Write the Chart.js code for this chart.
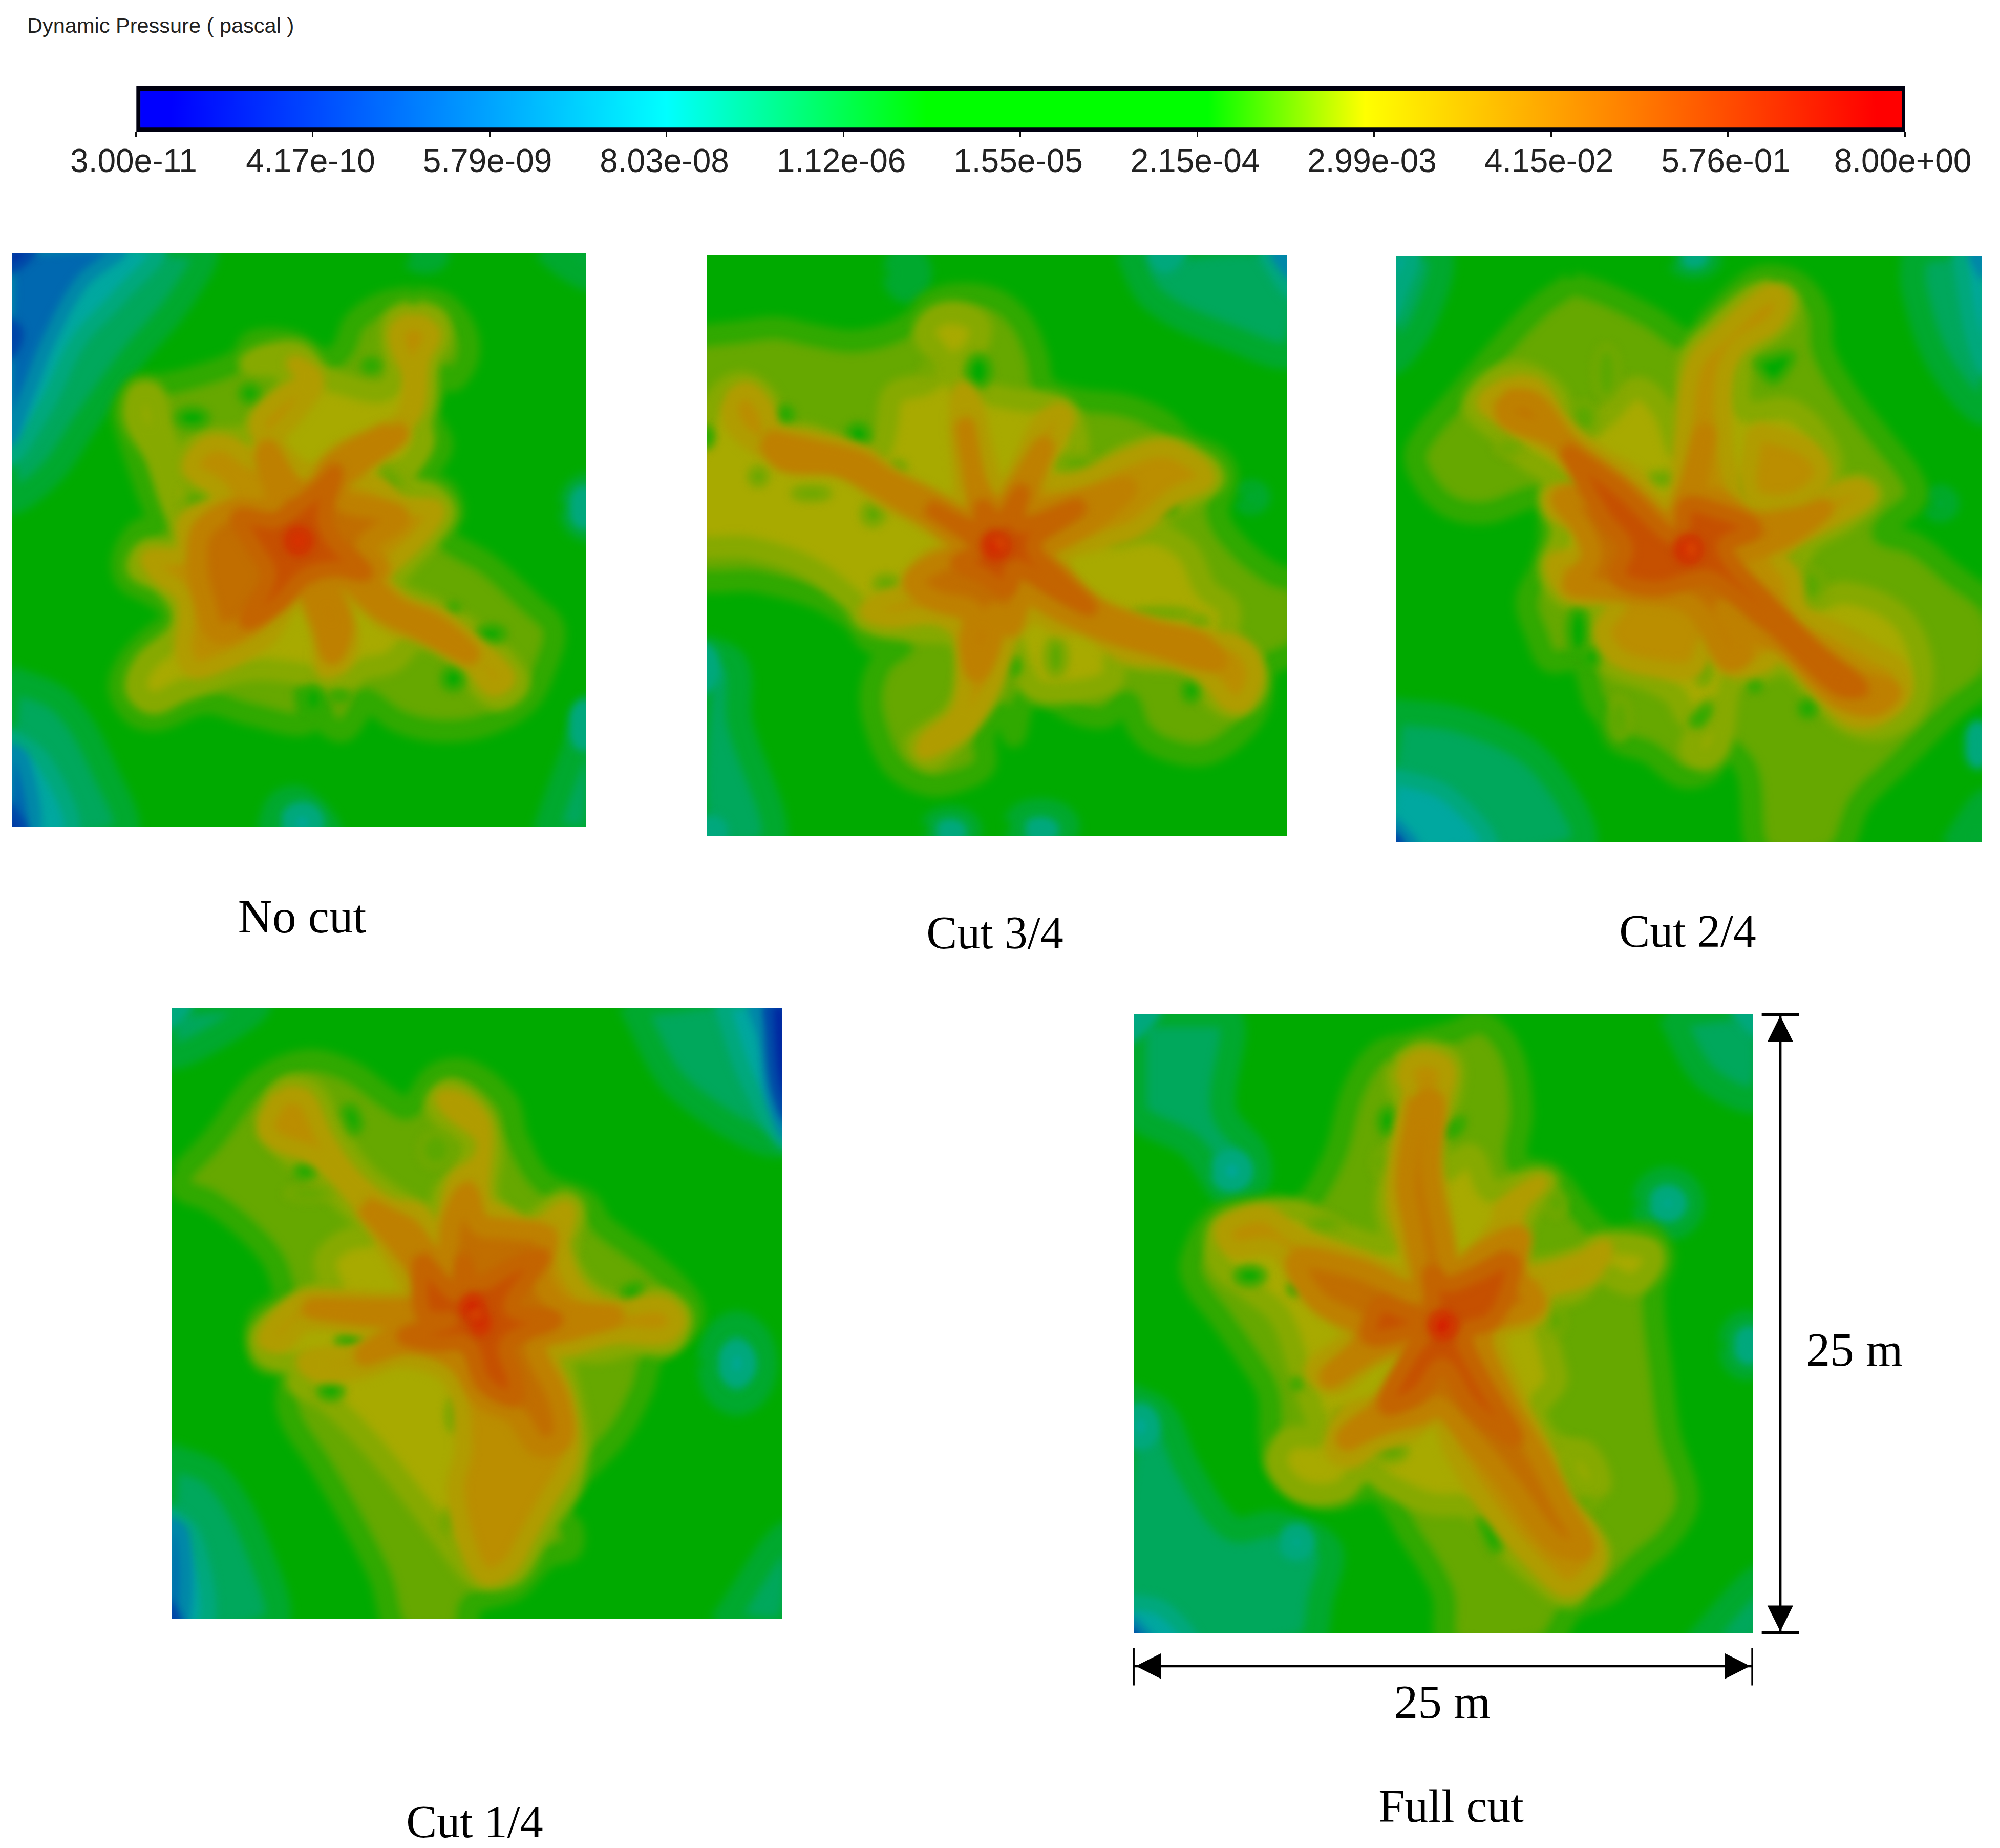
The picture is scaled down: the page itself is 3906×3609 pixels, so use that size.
<!DOCTYPE html>
<html>
<head>
<meta charset="utf-8">
<title>Dynamic Pressure</title>
<script src="https://cdn.jsdelivr.net/npm/chart.js@4"></script>
<style>
  body { margin: 0; background: #fff; width: 3906px; height: 3609px; position: relative; overflow: hidden; }
  canvas { position: absolute; display: block; }
  canvas.field { background: #00aa00; }
  .txt { position: absolute; transform: translate(-50%, -50%); white-space: nowrap; color: #000; font-family: "Liberation Serif", serif; font-size: 93px; }
  .cut { font-size: 90px; }
  #barTitle { transform: none; left: 53px; top: 26px; font-family: "Liberation Sans", sans-serif; font-size: 41.5px; color: #222; }
</style>
</head>
<body>
<div class="txt" id="barTitle">Dynamic Pressure ( pascal )</div>
<div class="txt" style="left:590px;top:1789px">No cut</div>
<div class="txt cut" style="left:1943px;top:1821px">Cut 3/4</div>
<div class="txt cut" style="left:3296px;top:1818px">Cut 2/4</div>
<div class="txt cut" style="left:927px;top:3557px">Cut 1/4</div>
<div class="txt" style="left:2834px;top:3527px;font-size:92px">Full cut</div>
<div class="txt" style="left:2817px;top:3323px">25 m</div>
<div class="txt" style="left:3622px;top:2635px">25 m</div>

<script>
"use strict";

// ----- colour bar ---------------------------------------------------------- //
const barTicks = ["3.00e-11", "4.17e-10", "5.79e-09", "8.03e-08", "1.12e-06", "1.55e-05",
                  "2.15e-04", "2.99e-03", "4.15e-02", "5.76e-01", "8.00e+00"];
const barStops = [0, 0.02, 0.1, 0.3, 0.447, 0.606, 0.695, 0.843, 0.984, 1];
const barColors = ["#0000ff", "#0000ff", "#0048ff", "#00ffff", "#00ff00", "#00ff00",
                   "#ffff00", "#ff8000", "#ff0000", "#ff0000"];

// No cut
const noCutTint = [[0,0,520,0,470,130,330,300,215,460,110,610,0,670], [0,1150,150,1220,260,1400,310,1570,0,1570],
  [700,1570,730,1490,790,1480,860,1570], [1440,1570,1500,1400,1570,1230,1570,1570], [1560,695,50,60], [1440,0,1570,0,1570,80,1500,50], [1120,20,30,15]];
const noCutTeal = [[0,0,400,0,300,130,190,250,100,430,0,560], [0,1300,100,1380,170,1570,0,1570], [790,1540,40,35], [1545,1280,20,50], [1545,695,20,40]];
const noCutBlue = [[0,0,300,0,200,90,110,250,50,400,0,510], [0,1340,40,1370,70,1570,0,1570]];
const noCutDeep = [[0,0,70,0,0,60], [0,190,30,230,0,290], [0,1490,45,1570,0,1570]];
const noCutPlume = [[1090,130,1170,150,1225,215,1235,290,1195,355,1165,340,1130,440,1165,530,1120,620,1175,650,1195,710,1170,770,1290,850,1400,950,1465,1020,1440,1130,1390,1220,1280,1280,1160,1295,1050,1270,960,1210,945,1240,900,1295,850,1270,840,1235,800,1190,800,1275,650,1250,530,1220,400,1265,340,1250,300,1180,330,1100,410,1025,445,1010,430,960,380,925,320,890,310,830,350,760,400,740,370,640,320,490,310,430,350,370,420,365,520,340,620,300,660,250,760,250,830,290,860,300,900,270,930,200,1000,150]];
const noCutMid = [[1090,165,1150,190,1160,240,1130,300,1125,400,1110,470,1115,520,1080,580,1030,610,1060,640,1140,660,1175,710,1130,780,1075,840,1035,890,1040,920,1150,970,1250,1030,1340,1110,1370,1170,1320,1210,1270,1180,1200,1090,1100,1050,1030,1110,950,1130,900,1160,830,1150,780,1140,680,1130,600,1140,530,1165,460,1190,390,1220,345,1180,370,1110,450,1040,470,980,420,900,350,860,370,815,450,810,480,780,440,680,400,560,340,460,350,390,390,390,415,480,440,560,480,620,470,570,530,515,590,510,650,500,680,450,760,370,730,320,650,310,700,285,780,280,840,340,900,365,1000,385,1040,350,1030,240,1040,190]];
const noCutSoft = [[480,640,540,660,520,700,470,700], [1010,580,1060,630,1030,660,1000,620]];
const noCutHoles = [[650,390,25,22], [495,455,42,24], [975,315,22,14], [1295,1035,38,20], [1195,1155,28,28], [1195,965,14,8], [820,1210,22,34], [890,1200,25,8]];
const noCutArm = [[1090,190,1140,230,1110,300,1095,430,1040,490,950,545,900,600,1000,640,1060,690,1150,700,1110,770,1040,840,1000,880,1060,950,1160,990,1260,1070,1340,1150,1300,1180,1240,1110,1130,1040,1030,1010,950,950,880,920,920,1040,900,1110,850,1130,840,1040,800,950,770,940,700,1040,620,1090,580,1110,500,1130,470,1070,480,1000,470,930,400,870,380,830,470,820,480,730,580,680,560,640,490,590,530,530,590,525,660,570,700,560,670,470,730,400,800,350,770,310,820,340,825,370,760,460,720,510,760,570,820,600,900,540,1020,490,1070,440,1080,340,1050,270,1045,220]];
const noCutCore = [[1030,490,1050,500,960,570,880,640,900,680,1050,720,960,800,1000,860,960,870,1040,960,1150,1010,1240,1090,1100,1020,1000,970,900,880,850,870,900,1010,870,1090,840,1000,790,900,740,930,620,1020,560,1030,530,950,510,860,520,760,600,700,680,700,720,680,690,560,700,540,760,640,810,660,880,570]];
const noCutHot = [[780,690,840,640,880,600,850,720,880,790,960,870,880,860,800,880,720,960,640,1000,700,880,660,800,620,720,720,730]];
const noCutRed = [[780,785,30,30]];
const noCutEye = [[780,785,7,7]];

// Cut 3/4
const cut34Tint = [[1130,0,1570,0,1570,270,1400,230,1200,130], [0,1050,90,1100,100,1250,190,1570,0,1570], [545,60,32,45], [660,1540,50,30], [900,1530,70,40], [1460,655,16,12]];
const cut34Teal = [[1190,0,1270,0,1230,40], [1490,0,1570,0,1570,110], [0,1110,30,50], [25,1545,25,25], [660,1545,25,15], [900,1540,30,15]];
const cut34Blue = [[1520,0,1570,0,1570,60]];
const cut34Deep = [];
const cut34Plume = [[-40,230,100,215,200,205,300,225,400,240,500,220,570,180,600,140,680,115,780,130,850,190,890,280,910,360,1000,395,1120,410,1220,450,1290,510,1370,550,1395,600,1370,700,1430,790,1520,860,1590,890,1590,1050,1500,1110,1480,1210,1420,1290,1330,1340,1220,1320,1160,1270,1130,1200,1070,1240,1000,1230,920,1190,860,1190,830,1290,810,1240,780,1230,750,1290,750,1370,680,1410,600,1420,510,1370,460,1260,450,1170,480,1090,530,1050,450,1040,400,980,300,920,150,880,-40,850]];
const cut34Mid = [[-40,560,50,380,110,350,170,390,200,480,290,490,400,540,470,530,490,470,510,380,600,350,640,300,590,220,620,175,680,165,740,200,720,270,680,300,680,350,760,380,830,395,960,420,1000,530,960,570,1040,590,1130,540,1230,520,1340,570,1360,610,1300,650,1190,720,1100,760,1200,750,1290,800,1340,900,1400,950,1400,1040,1460,1090,1470,1170,1410,1215,1350,1180,1290,1100,1180,1090,1100,1080,1090,1140,1000,1170,890,1170,850,1110,820,1040,780,1100,760,1180,690,1270,630,1340,600,1350,570,1310,660,1240,700,1160,680,1030,560,1010,440,985,400,930,280,840,130,790,-40,770]];
const cut34Soft = [[290,645,50,15], [150,600,22,22], [455,700,28,28], [520,575,20,14], [490,885,32,20], [940,1080,26,50], [1000,565,50,20], [1220,965,80,12], [600,315,15,15], [1320,985,25,12]];
const cut34Holes = [[735,320,30,42], [220,435,20,18], [415,490,28,28], [13,495,15,25], [1300,1170,20,26], [1230,683,30,15], [830,1105,12,22]];
const cut34Arm = [[70,400,120,370,170,420,190,480,290,500,430,540,490,590,560,630,680,670,680,460,690,370,720,400,760,560,790,640,830,600,900,460,950,425,970,450,900,570,900,610,1000,610,1130,550,1230,525,1320,570,1340,610,1260,650,1150,740,1060,770,960,810,980,900,1060,960,1200,1000,1320,1030,1430,1050,1470,1120,1440,1200,1400,1200,1340,1130,1260,1090,1120,1070,1020,1000,950,1000,880,970,820,1020,800,1080,770,1160,700,1270,620,1320,590,1330,600,1300,680,1230,700,1120,690,1020,620,970,500,980,440,960,480,930,560,900,590,830,660,780,560,700,470,650,400,580,290,560,170,530,90,470]];
const cut34Core = [[170,500,300,530,420,560,480,600,600,660,730,720,720,600,700,470,730,620,790,690,830,640,910,520,860,680,900,690,1020,660,1130,630,1060,700,950,770,880,790,950,860,1050,950,1200,1010,1320,1040,1370,1090,1330,1090,1200,1050,1040,1000,920,940,860,900,820,1000,780,960,770,1040,730,1120,710,1040,720,960,620,930,560,880,620,830,700,800,620,720,520,660,440,610,350,570,220,560]];
const cut34Hot = [[600,680,740,740,745,680,790,720,850,640,840,730,1000,680,880,780,960,880,1030,950,920,890,830,840,810,900,740,860,680,830,740,790]];
const cut34Red = [[780,785,30,28]];
const cut34Eye = [[788,780,8,8]];

// Cut 2/4
const cut24Tint = [[0,1210,200,1240,400,1350,500,1570,0,1570], [0,0,130,0,90,180,0,290], [1380,0,1570,0,1570,420,1450,300,1380,100], [1480,1570,1570,1450,1570,1570], [800,20,40,20], [1450,665,15,15]];
const cut24Teal = [[0,1380,150,1430,260,1570,0,1570], [0,0,60,0,30,100,0,180], [1500,0,1570,0,1570,310,1530,200], [1548,1300,15,45], [800,15,20,12]];
const cut24Blue = [[0,1500,60,1570,0,1570], [1535,0,1570,0,1570,60]];
const cut24Deep = [[0,1530,30,1570,0,1570]];
const cut24Plume = [[480,85,560,110,680,170,790,235,850,170,950,80,1010,65,1080,90,1130,160,1140,260,1200,370,1300,500,1370,590,1385,650,1310,720,1300,745,1380,770,1480,850,1590,950,1590,1110,1480,1210,1340,1350,1240,1450,1170,1590,980,1590,940,1370,880,1310,840,1370,770,1385,680,1320,600,1290,570,1230,540,1190,500,1080,420,1080,385,1010,360,920,400,830,420,740,395,650,250,690,150,670,80,590,70,520,180,380,320,220,400,140]];
const cut24Mid = [[1010,100,1050,130,1030,190,950,250,920,330,935,420,1060,420,1160,540,1140,650,1110,670,1230,615,1270,640,1200,710,1100,770,1070,850,1090,930,1200,900,1340,960,1400,1080,1380,1200,1290,1260,1200,1240,1110,1150,1040,1090,950,1120,900,1130,870,1300,830,1340,790,1310,850,1200,790,1230,750,1170,680,1130,580,1090,540,1000,560,920,460,910,420,840,450,740,420,640,470,620,350,540,290,480,220,410,270,340,350,320,430,370,490,480,560,440,650,360,720,420,760,520,780,400,790,280,850,210,950,120]];
const cut24Soft = [[510,440,35,42], [570,320,30,70], [310,520,32,15], [1110,880,32,42], [825,1100,20,42], [720,600,42,16], [925,625,28,25], [1030,805,25,15], [605,1230,25,55], [1210,1045,18,25]];
const cut24Holes = [[960,290,1060,270,1040,320,1005,345], [495,1000,25,60], [530,1070,20,25], [790,1240,840,1195,835,1225,810,1250], [1100,1205,20,20], [960,1145,14,12], [1105,675,9,9]];
const cut24Arm = [[320,345,390,360,450,450,540,530,640,590,700,660,750,660,770,500,800,300,870,220,1000,110,1035,130,1010,190,920,250,880,330,880,500,890,560,930,680,1000,690,1100,660,1230,620,1260,645,1180,700,1060,760,1020,800,1060,860,1080,950,1180,1000,1280,1060,1340,1100,1350,1170,1280,1230,1210,1230,1120,1140,1030,1060,980,1090,900,1100,840,1030,800,1100,700,1100,600,1070,560,1000,600,920,470,900,430,820,500,800,510,740,430,680,430,640,540,640,430,520,320,450,250,400], [960,470,1100,520,1140,590,1060,660,950,640]];
const cut24Core = [[300,390,380,400,470,510,600,610,720,720,740,760,760,690,790,610,830,480,810,660,860,650,950,710,1080,700,1140,680,1050,750,950,790,880,820,1000,950,1110,1050,1230,1130,1320,1160,1270,1200,1170,1170,1040,1040,950,1000,880,940,930,1060,890,1080,820,960,770,920,640,900,540,890,480,880,520,830,530,790,500,720,450,650,540,650,640,690,560,590,430,490,310,440]];
const cut24Hot = [[460,520,600,620,760,760,780,670,850,680,960,730,880,780,1000,930,1130,1060,1240,1150,1180,1150,1030,1010,900,900,830,860,700,890,600,860,620,780,560,700]];
const cut24Red = [[785,785,30,30]];
const cut24Eye = [[790,785,8,12]];

// Cut 1/4
const cut14Tint = [[1170,0,1570,0,1570,350,1300,220], [0,0,230,0,100,100,0,130], [0,1140,130,1200,240,1400,270,1570,0,1570], [1440,910,70,100], [1400,1570,1570,1340,1570,1570]];
const cut14Teal = [[1400,0,1570,0,1570,350,1470,200], [0,0,50,0,0,50], [0,1280,70,1350,100,1570,0,1570], [1440,910,30,40]];
const cut14Blue = [[1480,0,1570,0,1570,330,1530,240,1510,90], [0,1310,40,1340,40,1570,0,1570]];
const cut14Deep = [[1520,0,1570,0,1570,290,1535,200], [0,1510,30,1570,0,1570]];
const cut14Plume = [[35,430,120,340,230,200,350,145,460,170,560,240,610,265,680,180,760,170,860,250,885,340,950,450,1060,500,1100,560,1220,650,1320,750,1325,810,1230,890,1200,980,1140,1090,1030,1210,990,1280,1025,1330,1020,1380,960,1400,880,1480,770,1520,750,1590,590,1590,540,1450,470,1310,390,1170,310,1040,310,950,340,900,250,910,225,840,240,790,300,750,300,740,270,650,200,570,110,500,40,470]];
const cut14Mid = [[245,310,300,215,370,225,420,320,500,430,590,500,680,540,700,480,750,420,770,350,700,290,680,250,720,220,790,280,820,370,810,480,840,530,910,560,1000,500,1030,520,1010,620,1040,700,1130,760,1250,750,1300,790,1270,860,1180,860,1100,880,1000,880,1000,900,1040,1100,1020,1220,975,1290,940,1340,880,1440,800,1455,760,1430,700,1350,640,1270,520,1120,400,1000,330,960,350,920,250,890,240,830,330,760,390,730,420,730,400,650,450,600,520,580,460,510,380,440,300,370]];
const cut14Soft = [[680,370,40,42], [870,1290,30,72], [1020,610,16,16], [725,1040,15,40], [710,1310,15,30], [360,480,60,16]];
const cut14Holes = [[445,270,470,260,490,310,470,325], [350,425,25,15], [1150,725,1195,710,1190,740,1165,760], [465,855,35,18], [415,980,30,18]];
const cut14Arm = [[290,230,350,240,400,340,470,440,560,510,640,530,680,600,700,560,730,450,790,400,800,340,720,270,700,240,750,250,800,310,800,500,860,540,920,570,1010,520,1000,620,1040,720,1120,770,1250,760,1290,800,1260,840,1130,840,1020,870,970,880,1010,1010,1020,1150,960,1260,910,1350,870,1420,810,1450,770,1400,730,1230,750,1120,720,950,600,900,480,930,370,930,350,900,480,880,560,850,490,820,350,810,290,860,250,850,290,790,360,745,600,750,610,720,560,620,490,510,380,390,280,350,250,310]];
const cut14Core = [[500,510,620,580,700,680,720,550,760,480,790,560,860,570,960,590,940,680,1000,770,1130,790,1000,830,930,860,990,1000,1000,1100,940,1120,880,1040,800,1000,730,900,620,860,500,890,570,840,650,800,500,790,370,770,600,770,680,750,610,640]];
const cut14Hot = [[640,640,740,740,750,650,780,710,880,660,950,640,870,770,980,800,860,860,880,950,880,1000,800,960,760,860,680,860,600,840,720,800,650,790]];
const cut14Red = [[772,768,24,24], [792,808,18,22]];
const cut14Eye = [[780,785,6,6]];

// Full cut
const fullCutTint = [[18,14,250,14,240,250,320,360,320,430,250,460,160,340,18,250], [1340,14,1560,14,1560,220,1430,170], [1335,480,60,60], [1530,830,40,55], [0,950,90,1000,150,1130,260,1280,370,1270,500,1330,480,1450,440,1570,0,1570], [1400,1570,1570,1400,1570,1570]];
const fullCutTeal = [[260,400,35,35], [0,0,70,0,0,70], [1500,0,1570,0,1570,60], [1335,480,30,28], [1535,830,20,30], [35,1030,30,40], [420,1315,28,28], [0,1460,90,1480,160,1570,0,1570]];
const fullCutBlue = [[0,1500,60,1570,0,1570]];
const fullCutDeep = [[0,1525,35,1570,0,1570]];
const fullCutPlume = [[700,85,800,60,880,35,950,110,975,250,965,380,1050,410,1130,510,1190,560,1290,555,1325,610,1300,700,1320,900,1340,1050,1385,1210,1340,1300,1260,1370,1190,1440,1100,1480,1030,1570,800,1570,780,1440,700,1300,620,1190,500,1210,410,1170,360,1100,350,950,300,860,230,760,170,680,160,620,220,515,350,485,430,490,510,370,560,200,620,110]];
const fullCutMid = [[670,140,730,105,800,130,800,210,770,290,780,400,850,360,900,450,1000,420,1040,430,980,520,985,630,1130,610,1165,580,1290,590,1300,630,1250,680,1160,650,1120,690,1030,740,1050,860,1060,920,1010,990,1040,1060,1100,1100,1070,1200,1130,1290,1170,1340,1130,1410,1090,1450,1000,1390,930,1320,850,1230,750,1220,640,1170,590,1130,530,1190,430,1190,370,1120,400,1060,480,1050,460,990,430,900,380,760,300,690,230,630,230,540,320,505,430,500,520,550,650,580,640,480,670,330,690,240,670,190], [1080,1100,1130,1090,1170,1170,1130,1190,1090,1140]];
const fullCutSoft = [[490,530,42,16], [1130,1220,30,15], [1060,770,20,30], [625,380,15,30], [530,1020,18,30], [650,1090,40,25], [1060,480,22,30]];
const fullCutHoles = [[645,278,20,32], [785,300,830,270,825,295,795,315], [305,658,36,20], [415,690,12,12], [420,925,10,10], [865,1255,895,1265,925,1325,905,1335]];
const fullCutArm = [[680,150,730,120,790,145,780,220,750,320,770,450,780,500,810,650,920,530,930,490,1020,430,970,490,960,600,990,650,1120,620,1180,590,1140,660,1030,700,1010,760,920,800,960,950,1030,1090,1070,1200,1150,1300,1160,1370,1090,1430,1020,1380,900,1240,810,1100,760,1000,710,1040,600,1080,560,1110,510,1090,540,1000,640,960,730,820,600,870,520,930,460,890,560,800,520,760,430,660,360,590,260,590,240,540,340,505,420,560,560,610,700,650,660,480,680,300,700,210]];
const fullCutCore = [[720,220,760,230,750,400,780,560,810,680,850,620,970,560,960,650,1010,730,880,790,930,950,1020,1110,1080,1230,1130,1330,1060,1320,950,1180,850,1060,770,980,730,1000,640,1020,540,1060,640,970,720,850,740,810,620,840,500,910,590,800,470,720,420,620,570,640,720,700,710,560,690,420]];
const fullCutHot = [[620,720,750,760,750,650,790,680,850,660,950,620,940,700,900,770,830,800,870,900,960,1060,850,980,780,880,720,950,640,980,700,850,740,790,600,810]];
const fullCutRed = [[780,780,28,28]];
const fullCutEye = [[770,770,3,3], [797,785,3,3]];

// ----- dimension marks, in metres from the top-left of the Full cut field --- //
const widthLine = [0, 26.35, 25, 26.35];
const heightLine = [26.14, 0, 26.14, 25];
const widthEnds = [[0, 25.62, 0, 27.13], [25, 25.62, 25, 27.13]];
const heightEnds = [[25.39, 0, 26.89, 0], [25.39, 25, 26.89, 25]];
const arrowHeads = [[0.08, 26.35, 1.1, 25.83, 1.1, 26.87], [24.92, 26.35, 23.9, 25.83, 23.9, 26.87],
                    [26.14, 0.05, 25.62, 1.1, 26.66, 1.1], [26.14, 24.95, 25.62, 23.9, 26.66, 23.9]];

// ----- styles --------------------------------------------------------------- //
const BANDS = {
  tint:  { fill: "#00a85c", edge: "#00a92e", width: 50 },
  teal:  { fill: "#00a8a0", edge: "#00a87c", width: 30 },
  blue:  { fill: "#0068b0", edge: "#0088a8", width: 26 },
  deep:  { fill: "#0024a0", edge: "#0048a8", width: 16 },
  plume: { fill: "#66a800", edge: "#30a900", width: 44 },
  mid:   { fill: "#a8aa00", edge: "#86a900", width: 44 },
  soft:  { fill: "#5ca800", edge: "#80a800", width: 8 },
  hole:  { fill: "#00aa00", edge: "#40a900", width: 8 },
  arm:   { fill: "#bb8e00", edge: "#b09c00", width: 34 },
  core:  { fill: "#c16e00", edge: "#be8000", width: 40 },
  hot:   { fill: "#c65000", edge: "#c36400", width: 30 },
  red:   { fill: "#d81800", edge: "#cf3800", width: 14 },
  eye:   { fill: "#d89000", edge: "#dc4000", width: 2 },
};

const PANELS = [
  { id: "noCut", left: 24, top: 494, size: 1121, xr: [13, 1552], yr: [13, 1552],
    layers: { tint: noCutTint, teal: noCutTeal, blue: noCutBlue, deep: noCutDeep, plume: noCutPlume, mid: noCutMid, soft: noCutSoft, hole: noCutHoles, arm: noCutArm, core: noCutCore, hot: noCutHot, red: noCutRed, eye: noCutEye } },
  { id: "cut34", left: 1380, top: 498, size: 1134, xr: [13, 1555], yr: [11, 1555],
    layers: { tint: cut34Tint, teal: cut34Teal, blue: cut34Blue, deep: cut34Deep, plume: cut34Plume, mid: cut34Mid, soft: cut34Soft, hole: cut34Holes, arm: cut34Arm, core: cut34Core, hot: cut34Hot, red: cut34Red, eye: cut34Eye } },
  { id: "cut24", left: 2726, top: 500, size: 1144, xr: [15, 1558], yr: [13, 1556],
    layers: { tint: cut24Tint, teal: cut24Teal, blue: cut24Blue, deep: cut24Deep, plume: cut24Plume, mid: cut24Mid, soft: cut24Soft, hole: cut24Holes, arm: cut24Arm, core: cut24Core, hot: cut24Hot, red: cut24Red, eye: cut24Eye } },
  { id: "cut14", left: 335, top: 1968, size: 1193, xr: [13, 1555], yr: [11, 1555],
    layers: { tint: cut14Tint, teal: cut14Teal, blue: cut14Blue, deep: cut14Deep, plume: cut14Plume, mid: cut14Mid, soft: cut14Soft, hole: cut14Holes, arm: cut14Arm, core: cut14Core, hot: cut14Hot, red: cut14Red, eye: cut14Eye } },
  { id: "fullCut", left: 2214, top: 1981, size: 1209, xr: [18, 1545], yr: [14, 1540],
    layers: { tint: fullCutTint, teal: fullCutTeal, blue: fullCutBlue, deep: fullCutDeep, plume: fullCutPlume, mid: fullCutMid, soft: fullCutSoft, hole: fullCutHoles, arm: fullCutArm, core: fullCutCore, hot: fullCutHot, red: fullCutRed, eye: fullCutEye } },
];

// ----- helpers -------------------------------------------------------------- //
function addCanvas(left, top, w, h, cls) {
  const c = document.createElement("canvas");
  c.width = w;
  c.height = h;
  c.style.left = left + "px";
  c.style.top = top + "px";
  if (cls) c.className = cls;
  document.body.appendChild(c);
  return c;
}

function toPoints(flat) {
  const pts = [];
  for (let i = 0; i < flat.length; i += 2) pts.push({ x: flat[i], y: flat[i + 1] });
  return pts;
}

// 4 numbers = an elliptical spot cx,cy,rx,ry, anything longer is a closed outline
function outline(entry) {
  let flat = entry;
  if (entry.length === 4) {
    const [cx, cy, rx, ry] = entry;
    flat = [cx - rx, cy, cx - rx * 0.7, cy - ry * 0.7, cx, cy - ry, cx + rx * 0.7, cy - ry * 0.7,
            cx + rx, cy, cx + rx * 0.7, cy + ry * 0.7, cx, cy + ry, cx - rx * 0.7, cy + ry * 0.7];
  }
  const pts = toPoints(flat);
  pts.push(pts[0]);
  return pts;
}

function bandDataset(entry, band) {
  return {
    data: outline(entry), showLine: true, fill: "shape", tension: 0.35,
    backgroundColor: band.fill, borderColor: band.edge, borderWidth: band.width,
    pointRadius: 0,
  };
}

// every band of a field is softened the same way, the reference is a smooth contour
const softenPlugin = {
  id: "soften",
  beforeDatasetsDraw(chart) { chart.ctx.save(); chart.ctx.filter = "blur(9px)"; },
  afterDatasetsDraw(chart) { chart.ctx.restore(); },
};

// ----- fields --------------------------------------------------------------- //
function drawPanel(p) {
  const canvas = addCanvas(p.left, p.top, p.size, p.size, "field");
  const datasets = [];
  Object.keys(p.layers).forEach(name => {
    p.layers[name].forEach(entry => datasets.push(bandDataset(entry, BANDS[name])));
  });
  // chart.js paints the first dataset last, so the hottest band goes first
  datasets.reverse();
  new Chart(canvas, {
    type: "scatter",
    data: { datasets },
    plugins: [softenPlugin],
    options: {
      responsive: false, animation: false, events: [],
      layout: { padding: 0 },
      plugins: { legend: { display: false }, tooltip: { enabled: false } },
      scales: {
        x: { type: "linear", display: false, min: p.xr[0], max: p.xr[1] },
        y: { type: "linear", display: false, min: p.yr[0], max: p.yr[1], reverse: true },
      },
    },
  });
}

// ----- colour bar ----------------------------------------------------------- //
function drawColorBar() {
  const canvas = addCanvas(0, 140, 3906, 260);
  const ctx = canvas.getContext("2d");
  const grad = ctx.createLinearGradient(265, 0, 3720, 0);
  barStops.forEach((s, i) => grad.addColorStop(s, barColors[i]));
  new Chart(canvas, {
    type: "bar",
    data: {
      labels: ["Dynamic Pressure"],
      datasets: [{
        data: [[0, barTicks.length - 1]], backgroundColor: grad, borderColor: "#000010",
        borderSkipped: false, borderWidth: { top: 10, bottom: 10, left: 8, right: 6 },
        barPercentage: 1, categoryPercentage: 1,
      }],
    },
    options: {
      indexAxis: "y", responsive: false, animation: false, events: [],
      layout: { padding: { left: 265, right: 186, top: 28, bottom: 0 } },
      plugins: { legend: { display: false }, tooltip: { enabled: false } },
      scales: {
        y: { display: false },
        x: {
          type: "linear", min: 0, max: barTicks.length - 1, offset: false,
          border: { display: false },
          afterFit(scale) { scale.height = 142; },
          grid: { drawOnChartArea: false, color: "#111", lineWidth: 3, tickLength: 9 },
          ticks: {
            stepSize: 1, autoSkip: false, maxRotation: 0, padding: 13, color: "#222", labelOffset: -4,
            font: { family: "'Liberation Sans', sans-serif", size: 64 },
            callback: v => barTicks[v],
          },
        },
      },
    },
  });
}

// ----- 25 m dimension marks --------------------------------------------------- //
function drawDimensions() {
  const pxPerM = 48.3;
  const canvas = addCanvas(Math.round(2214 - 1.5 * pxPerM), Math.round(1981 - 1 * pxPerM),
                           Math.round(30.5 * pxPerM), Math.round(31 * pxPerM));
  const stroke = (flat, width) => ({
    data: toPoints(flat), showLine: true, borderColor: "#000", borderWidth: width, pointRadius: 0,
  });
  const head = flat => ({
    data: toPoints(flat.concat(flat.slice(0, 2))), showLine: true, fill: "shape",
    backgroundColor: "#000", borderWidth: 0, pointRadius: 0,
  });
  const datasets = [
    stroke(widthLine, 5), stroke(heightLine, 5),
    ...widthEnds.map(e => stroke(e, 3)), ...heightEnds.map(e => stroke(e, 6)),
    ...arrowHeads.map(head),
  ];
  new Chart(canvas, {
    type: "scatter",
    data: { datasets },
    options: {
      responsive: false, animation: false, events: [],
      plugins: { legend: { display: false }, tooltip: { enabled: false } },
      scales: {
        x: { type: "linear", display: false, min: -1.5, max: 29 },
        y: { type: "linear", display: false, min: -1, max: 30, reverse: true },
      },
    },
  });
}

// ----- boot ----------------------------------------------------------------- //
PANELS.forEach(drawPanel);
drawColorBar();
drawDimensions();
</script>
</body>
</html>
